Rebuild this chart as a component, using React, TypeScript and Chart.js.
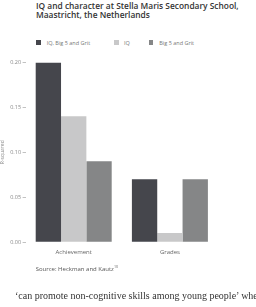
import React, { useEffect, useRef } from "react";
import { Chart, registerables } from "chart.js";

Chart.register(...registerables);

const categories = ["Achievement", "Grades"];
const seriesNames = ["IQ, Big 5 and Grit", "IQ", "Big 5 and Grit"];
const allValues = [0.2, 0.07];
const iqValues = [0.14, 0.01];
const big5Values = [0.09, 0.07];
const seriesColors = ["#45464c", "#c8c8c9", "#858687"];
const yTicks = [0, 0.05, 0.1, 0.15, 0.2];

export default function App() {
  const ref = useRef<HTMLCanvasElement | null>(null);

  useEffect(() => {
    if (!ref.current) return;
    const chart = new Chart(ref.current, {
      type: "bar",
      data: {
        labels: categories,
        datasets: [
          { label: seriesNames[0], data: allValues, backgroundColor: seriesColors[0] },
          { label: seriesNames[1], data: iqValues, backgroundColor: seriesColors[1] },
          { label: seriesNames[2], data: big5Values, backgroundColor: seriesColors[2] },
        ],
      },
      options: {
        animation: false,
        responsive: false,
        layout: { padding: { top: 62.5, right: 38, bottom: 50, left: 0 } },
        datasets: { bar: { categoryPercentage: 0.79, barPercentage: 1 } },
        plugins: { legend: { display: false }, tooltip: { enabled: false } },
        scales: {
          x: {
            grid: { display: false, drawTicks: false, tickLength: 0 },
            border: { display: false },
            ticks: { color: "#666", font: { family: "Open Sans", size: 6 }, padding: 7 },
            afterFit: (s: any) => { s.height = 15; },
          },
          y: {
            min: 0,
            max: 0.2,
            afterBuildTicks: (s: any) => { s.ticks = yTicks.map((v) => ({ value: v })); },
            grid: { display: true, drawOnChartArea: false, drawTicks: true, tickLength: 3, color: "#999", lineWidth: 0.6 },
            border: { display: false },
            ticks: {
              color: "#888",
              font: { family: "Open Sans", size: 5.5 },
              padding: 1.5,
              callback: (v: any) => Number(v).toFixed(2),
            },
            title: {
              display: true,
              text: "R-squared",
              color: "#888",
              font: { family: "Open Sans", size: 5 },
              padding: { top: 0, bottom: 0 },
            },
            afterFit: (s: any) => { s.width = 25.6; },
          },
        },
      },
    });
    return () => chart.destroy();
  }, []);

  const sans = "'Open Sans', sans-serif";
  const legendItem = (x: number, tx: number, color: string, text: string) => (
    <>
      <div style={{ position: "absolute", left: x, top: 40.3, width: 4.8, height: 4.8, background: color }} />
      <div style={{ position: "absolute", left: tx, top: 39.5, fontFamily: sans, fontSize: 5.5, lineHeight: "6px", color: "#777", whiteSpace: "nowrap" }}>{text}</div>
    </>
  );

  return (
    <div style={{ position: "fixed", left: 0, top: 0, width: 256, height: 307, background: "#fff", overflow: "hidden" }}>
      <div style={{ position: "absolute", left: 36, top: 1, fontFamily: sans, fontWeight: 600, fontSize: 8.4, lineHeight: "9.3px", color: "#333", whiteSpace: "nowrap" }}>
        IQ and character at Stella Maris Secondary School,<br />Maastricht, the Netherlands
      </div>
      {legendItem(36, 46.7, seriesColors[0], seriesNames[0])}
      {legendItem(114, 124, seriesColors[1], seriesNames[1])}
      {legendItem(148.7, 159.3, seriesColors[2], seriesNames[2])}
      <canvas ref={ref} width={256} height={307} style={{ position: "absolute", left: 0, top: 0, width: 256, height: 307 }} />
      <div style={{ position: "absolute", left: 35.7, top: 265.5, fontFamily: sans, fontSize: 6, lineHeight: "7px", color: "#555", whiteSpace: "nowrap" }}>
        Source: Heckman and Kautz<sup style={{ fontSize: 3.5, verticalAlign: "top", lineHeight: "4px", position: "relative", top: -0.5 }}>10</sup>
      </div>
      <div style={{ position: "absolute", left: 15, top: 290, fontFamily: "'Liberation Serif', serif", fontSize: 10, lineHeight: "11px", color: "#333", whiteSpace: "nowrap" }}>
        ‘can promote non-cognitive skills among young people’ when
      </div>
    </div>
  );
}
